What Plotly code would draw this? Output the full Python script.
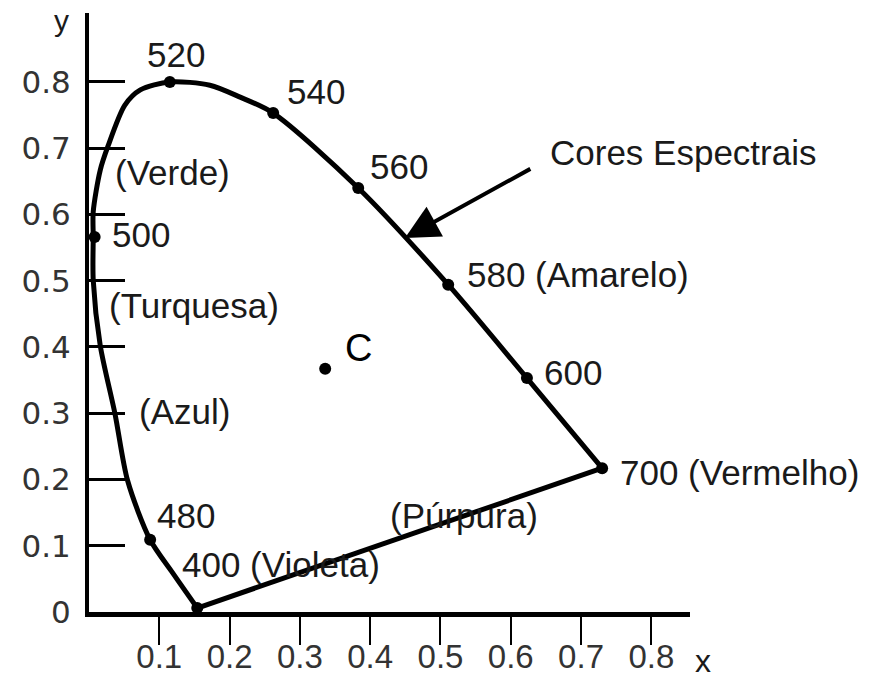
import plotly.graph_objects as go

# Spectral locus traced along the horseshoe (chromaticity x, y), 400 nm -> 700 nm
locus_x = [0.154, 0.119, 0.087, 0.055, 0.037, 0.016, 0.006, 0.006, 0.006, 0.016,
           0.027, 0.051, 0.073, 0.115, 0.172, 0.215, 0.262, 0.383, 0.511, 0.623, 0.730]
locus_y = [0.006, 0.059, 0.109, 0.198, 0.299, 0.402, 0.501, 0.566, 0.604, 0.667,
           0.703, 0.765, 0.788, 0.800, 0.795, 0.777, 0.753, 0.640, 0.494, 0.353, 0.217]

# Marked wavelengths on the locus
wavelengths = [400, 480, 500, 520, 540, 560, 580, 600, 700]
wl_x = [0.154, 0.087, 0.008, 0.115, 0.262, 0.383, 0.511, 0.623, 0.730]
wl_y = [0.006, 0.109, 0.566, 0.800, 0.753, 0.640, 0.494, 0.353, 0.217]

# Illuminant C (white point)
white_x = [0.336]
white_y = [0.367]

# Text labels and their anchor points (left edge, vertical middle)
label_text = ["520", "540", "560", "(Verde)", "500", "580 (Amarelo)", "(Turquesa)",
              "600", "(Azul)", "700 (Vermelho)", "480", "(Púrpura)", "400 (Violeta)"]
label_x = [0.080, 0.279, 0.397, 0.034, 0.030, 0.535, 0.026,
           0.644, 0.068, 0.752, 0.094, 0.425, 0.129]
label_y = [0.841, 0.785, 0.672, 0.664, 0.569, 0.509, 0.463,
           0.361, 0.302, 0.211, 0.146, 0.146, 0.071]

# Pointer to the spectral colours
pointer_text = "Cores Espectrais"
pointer_tail = (0.630, 0.670)
pointer_head = (0.4495, 0.5645)

# Axis ticks
x_ticks = [0.1, 0.2, 0.3, 0.4, 0.5, 0.6, 0.7, 0.8]
x_tick_labels = ["0.1", "0.2", "0.3", "0.4", "0.5", "0.6", "0.7", "0.8"]
y_ticks = [0, 0.1, 0.2, 0.3, 0.4, 0.5, 0.6, 0.7, 0.8]
y_tick_labels = ["0", "0.1", "0.2", "0.3", "0.4", "0.5", "0.6", "0.7", "0.8"]

FONT = "Liberation Sans, Arial, sans-serif"
INK = "#1a1a1a"

fig = go.Figure()

# Horseshoe curve
fig.add_trace(go.Scatter(
    x=locus_x, y=locus_y, mode="lines",
    line=dict(color="black", width=5, shape="spline", smoothing=0.8),
    cliponaxis=False, hoverinfo="skip", showlegend=False))

# Line of purples (400 nm to 700 nm)
fig.add_trace(go.Scatter(
    x=[wl_x[0], wl_x[-1]], y=[wl_y[0], wl_y[-1]], mode="lines",
    line=dict(color="black", width=5),
    cliponaxis=False, hoverinfo="skip", showlegend=False))

# Wavelength markers
fig.add_trace(go.Scatter(
    x=wl_x, y=wl_y, mode="markers",
    marker=dict(color="black", size=12, symbol="circle"),
    text=[f"{w} nm" for w in wavelengths],
    cliponaxis=False, showlegend=False))

# White point
fig.add_trace(go.Scatter(
    x=white_x, y=white_y, mode="markers",
    marker=dict(color="black", size=12),
    cliponaxis=False, showlegend=False))

annotations = []
for t, ax_, ay_ in zip(label_text, label_x, label_y):
    annotations.append(dict(
        x=ax_, y=ay_, xref="x", yref="y", text=t, showarrow=False,
        xanchor="left", yanchor="middle",
        font=dict(family=FONT, size=35, color=INK)))

annotations.append(dict(
    x=white_x[0] + 0.025, y=white_y[0] + 0.031, xref="x", yref="y", text="C",
    showarrow=False, xanchor="left", yanchor="middle",
    font=dict(family=FONT, size=38, color="black")))

annotations.append(dict(
    x=pointer_tail[0] + 0.023, y=pointer_tail[1] + 0.024, xref="x", yref="y",
    text=pointer_text, showarrow=False, xanchor="left", yanchor="middle",
    font=dict(family=FONT, size=35, color=INK)))

annotations.append(dict(
    x=pointer_head[0], y=pointer_head[1], ax=pointer_tail[0], ay=pointer_tail[1],
    xref="x", yref="y", axref="x", ayref="y", text="",
    showarrow=True, arrowhead=2, arrowsize=1.7, arrowwidth=4, arrowcolor="black"))

# Axis names
annotations.append(dict(
    x=-0.045, y=0.988, xref="paper", yref="paper", text="y", showarrow=False,
    xanchor="center", yanchor="middle", font=dict(family=FONT, size=30, color=INK)))
annotations.append(dict(
    x=1.022, y=-0.082, xref="paper", yref="paper", text="x", showarrow=False,
    xanchor="center", yanchor="middle", font=dict(family=FONT, size=32, color=INK)))

fig.update_layout(
    width=885, height=683,
    margin=dict(l=89, r=195, t=13, b=71),
    paper_bgcolor="white", plot_bgcolor="white",
    annotations=annotations,
    showlegend=False,
)

fig.update_xaxes(
    range=[0, 0.855], showgrid=False, zeroline=False, automargin=False,
    showline=True, linecolor="black", linewidth=5,
    ticks="outside", ticklen=28, tickwidth=2, tickcolor="black",
    tickvals=x_ticks, ticktext=x_tick_labels, ticklabelstandoff=-17,
    tickfont=dict(family=FONT, size=33, color="#333"))

fig.update_yaxes(
    range=[0, 0.904], showgrid=False, zeroline=False, automargin=False,
    showline=True, linecolor="black", linewidth=4,
    ticks="inside", ticklen=36, tickwidth=3, tickcolor="black",
    tickvals=y_ticks, ticktext=y_tick_labels, ticklabelstandoff=8,
    tickfont=dict(family="DejaVu Sans, sans-serif", size=31, color="#333"))

fig.write_html("out.html")
